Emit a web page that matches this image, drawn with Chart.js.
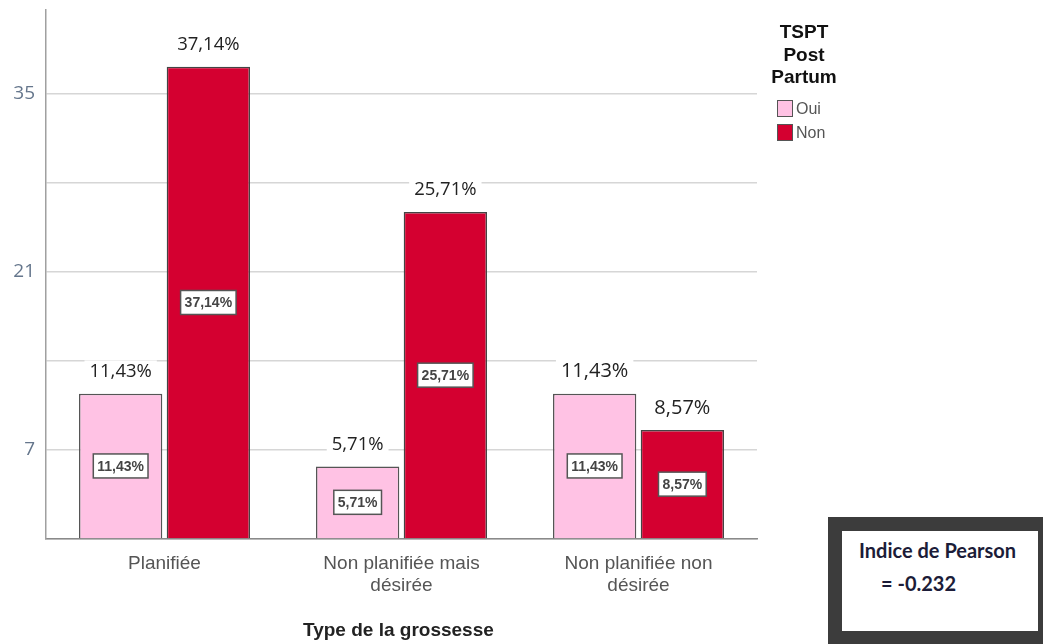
<!DOCTYPE html>
<html>
<head>
<meta charset="utf-8">
<title>Type de la grossesse</title>
<script src="https://cdn.jsdelivr.net/npm/chart.js@4/dist/chart.umd.min.js"></script>
<style>
  body { margin: 0; background: #fff; }
  #wrap { position: relative; width: 1043px; height: 644px; overflow: hidden; }
  #legend { position: absolute; left: 768px; top: 21px; width: 72px; font-family: 'Liberation Sans', Arial, sans-serif; }
  #legend .title { font-weight: bold; font-size: 19px; line-height: 22.5px; color: #111; text-align: center; }
  #legend .item { display: flex; align-items: center; height: 24px; margin-left: 9px; font-size: 16px; color: #555; }
  #legend .title + .item { margin-top: 8px; }
  #legend .sw { width: 14px; height: 15px; border: 1.5px solid #555; margin-right: 3px; }
  #xtitle { position: absolute; left: 303px; top: 619px; font: bold 19px 'Liberation Sans', Arial, sans-serif; color: #222; }
  #pearson { position: absolute; left: 828px; top: 517px; width: 196px; height: 100px; border: 14px solid #3c3c3c; background: #fff;
             font: bold 20px Lato, 'Open Sans', sans-serif; color: #1c1c38; }
  #pearson div { position: absolute; white-space: nowrap; }
</style>
</head>
<body>
<div id="wrap">
  <canvas id="myChart" width="1043" height="644"></canvas>
  <div id="legend"><div class="title">TSPT<br>Post<br>Partum</div></div>
  <div id="xtitle">Type de la grossesse</div>
  <div id="pearson">
    <div style="left:17px; top:7px;">Indice de Pearson</div>
    <div style="left:39px; top:40px;">= -0.232</div>
  </div>
</div>
<script>
// categories and values (percent of patients)
var categories = [['Planifiée'], ['Non planifiée mais', 'désirée'], ['Non planifiée non', 'désirée']];
var seriesNames = ['Oui', 'Non'];
var ouiValues = [11.43, 5.71, 11.43];
var nonValues = [37.14, 25.71, 8.57];
var yTickLabels = [7, 21, 35];
var seriesColors = ['#ffc2e4', '#d40030'];

function pct(v) {
    return v.toFixed(2).replace('.', ',') + '%';
}

// legend entries
var legend = document.getElementById('legend');
seriesNames.forEach(function (name, i) {
    var item = document.createElement('div');
    item.className = 'item';
    item.innerHTML = '<span class="sw" style="background:' + seriesColors[i] + '"></span>' + name;
    legend.appendChild(item);
});

// value labels above bars and boxed labels in the middle of bars
var barLabels = {
    id: 'barLabels',
    afterDatasetsDraw: function (chart) {
        var ctx = chart.ctx;
        ctx.save();
        chart.data.datasets.forEach(function (ds, di) {
            chart.getDatasetMeta(di).data.forEach(function (bar, i) {
                var txt = pct(ds.data[i]);

                // top label
                var size = i === 2 ? 20 : 18.5;
                ctx.font = size + 'px "Open Sans", sans-serif';
                ctx.textAlign = 'center';
                ctx.textBaseline = 'middle';
                var w = ctx.measureText(txt).width;
                var ty = bar.y - 22;
                ctx.fillStyle = '#fff';
                ctx.fillRect(bar.x - w / 2 - 5, ty - size / 2 - 2, w + 10, size + 4);
                ctx.fillStyle = '#222';
                ctx.fillText(txt, bar.x, ty);

                // boxed label
                var my = (bar.y + bar.base) / 2;
                ctx.font = 'bold 14px "Liberation Sans Narrow", "Arial Narrow", sans-serif';
                var bw = ctx.measureText(txt).width + 8;
                ctx.fillStyle = '#fff';
                ctx.fillRect(bar.x - bw / 2, my - 12, bw, 24);
                ctx.strokeStyle = '#555';
                ctx.lineWidth = 1.5;
                ctx.strokeRect(bar.x - bw / 2, my - 12, bw, 24);
                ctx.fillStyle = '#444';
                ctx.fillText(txt, bar.x, my + 1);
            });
        });
        ctx.restore();
    }
};

var ctx = document.getElementById('myChart').getContext('2d');
var chart = new Chart(ctx, {
    type: 'bar',
    data: {
        labels: categories,
        datasets: [{
            label: seriesNames[0],
            data: ouiValues,
            backgroundColor: seriesColors[0],
            borderColor: '#555',
            borderWidth: 1.5
        }, {
            label: seriesNames[1],
            data: nonValues,
            backgroundColor: seriesColors[1],
            borderColor: '#444',
            borderWidth: 1.5
        }]
    },
    options: {
        responsive: false,
        animation: false,
        categoryPercentage: 0.74,
        barPercentage: 0.95,
        layout: { padding: { top: 10, right: 286, left: 0, bottom: 0 } },
        plugins: {
            legend: { display: false },
            tooltip: { enabled: false }
        },
        scales: {
            x: {
                grid: { display: false },
                border: { color: '#8a8a8a', width: 1.5 },
                ticks: {
                    color: '#555',
                    padding: 6,
                    maxRotation: 0,
                    font: { family: 'Liberation Sans', size: 19, lineHeight: 1.15 }
                },
                afterFit: function (scale) { scale.height = 105; }
            },
            y: {
                min: 0,
                max: 41.6,
                grid: { color: '#d6d6d6', lineWidth: 1.5, drawTicks: false },
                border: { color: '#a0a0a0', width: 1.5 },
                afterBuildTicks: function (scale) {
                    scale.ticks = [0, 7, 14, 21, 28, 35].map(function (v) { return { value: v }; });
                },
                ticks: {
                    color: '#65768c',
                    padding: 11,
                    font: { family: 'Open Sans', size: 19 },
                    callback: function (v) { return yTickLabels.indexOf(v) >= 0 ? v : ''; }
                },
                afterFit: function (scale) {
                    scale.width = 46;
                    // top label sits well below the axis end, no room needed above
                    scale.paddingTop = 0;
                }
            }
        }
    },
    plugins: [barLabels]
});
</script>
</body>
</html>
